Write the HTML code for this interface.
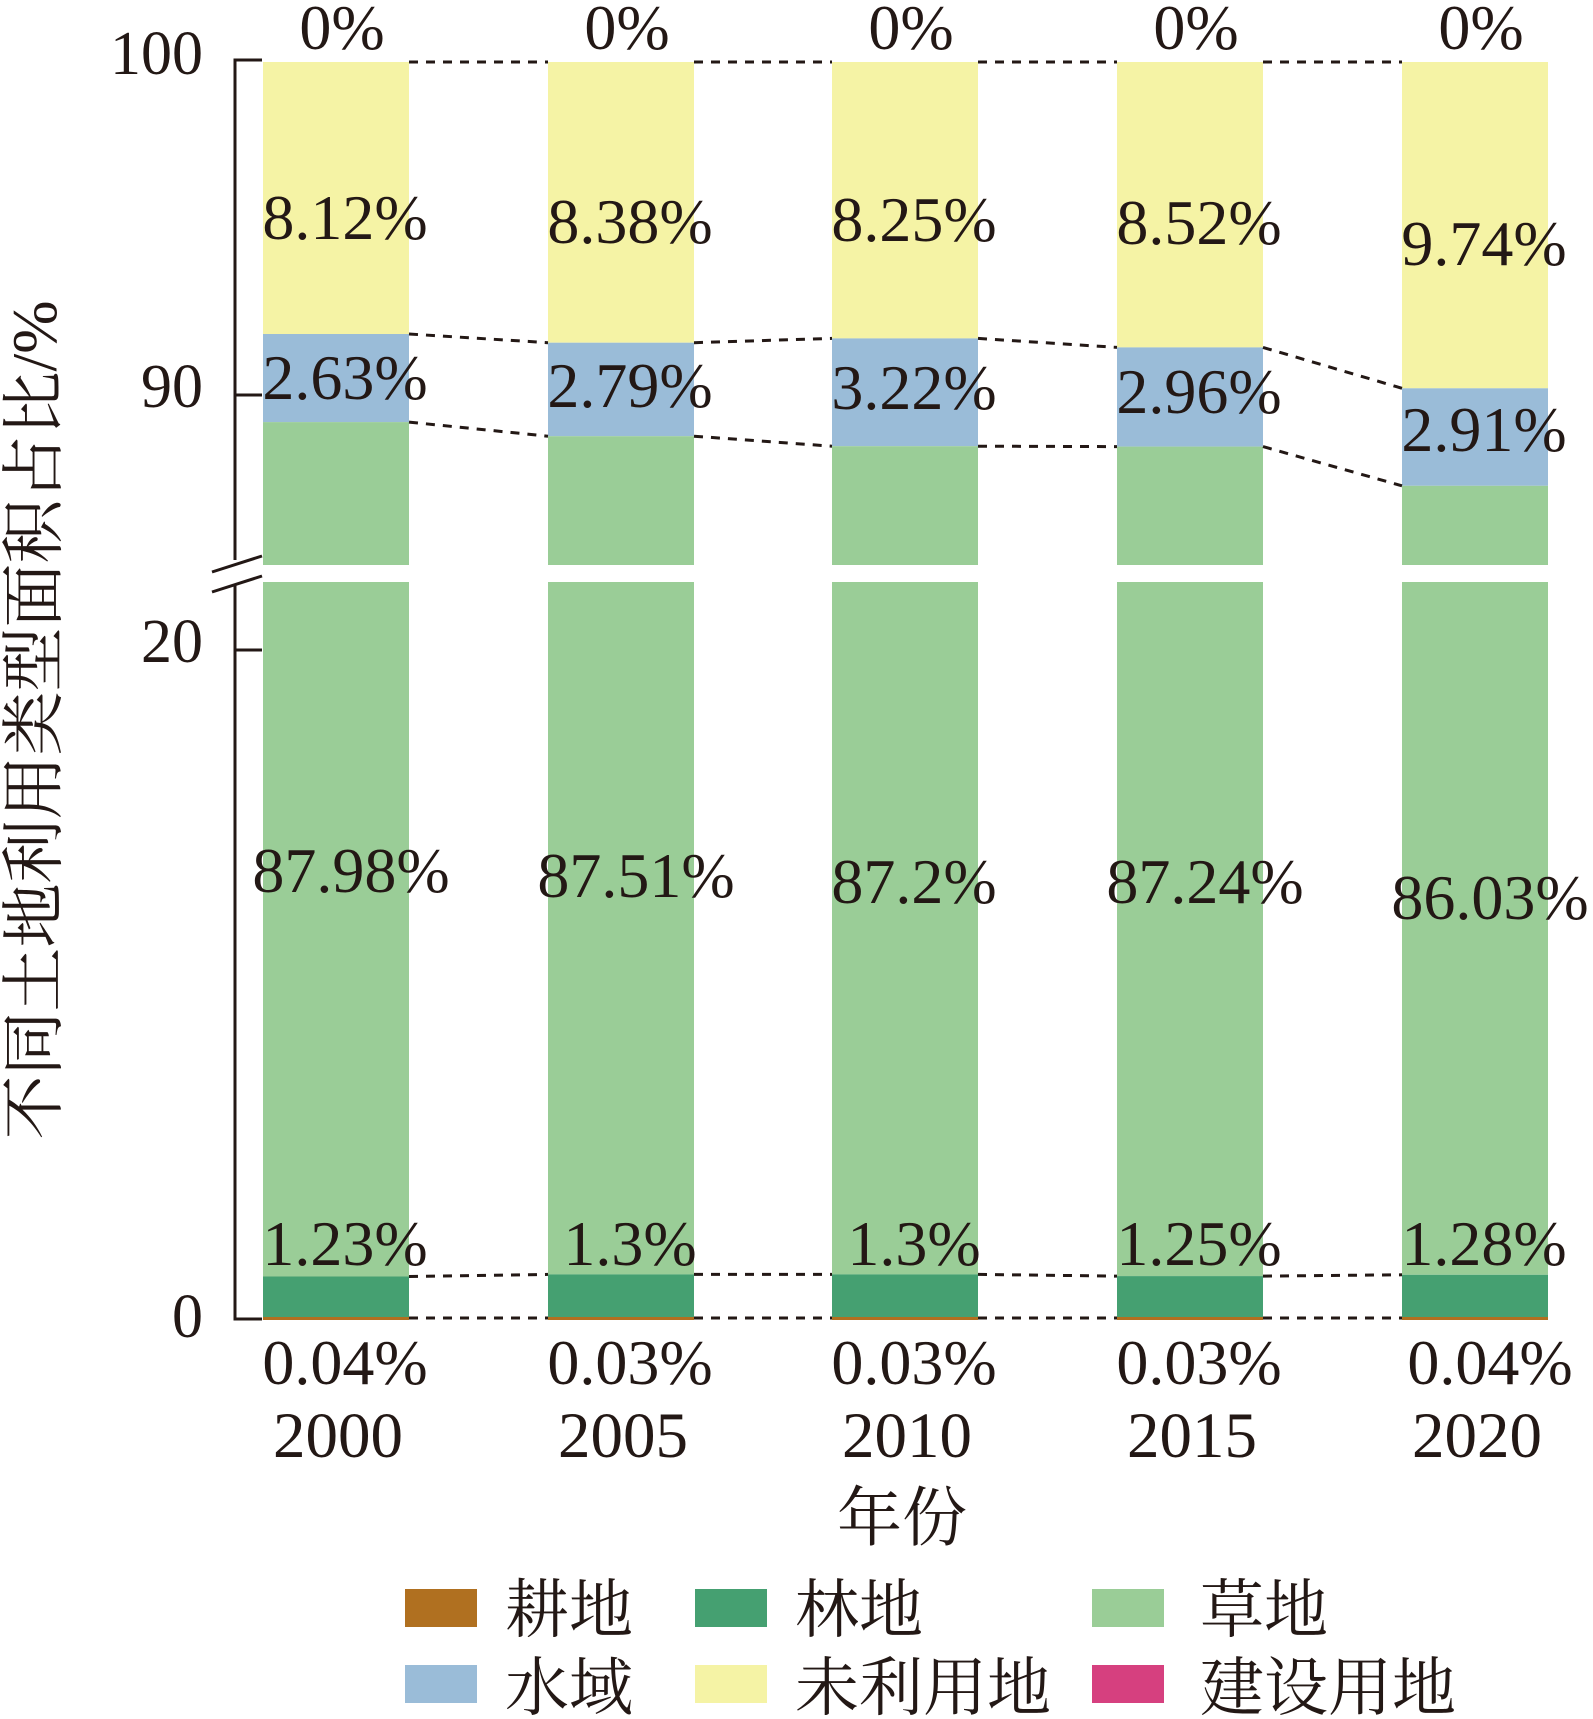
<!DOCTYPE html>
<html><head><meta charset="utf-8"><style>
html,body{margin:0;padding:0;background:#fff}
svg{display:block}
text{font-family:"Liberation Serif","Noto Serif CJK SC",serif;fill:#231815}
</style></head><body>
<svg width="1593" height="1719" viewBox="0 0 1593 1719" xmlns="http://www.w3.org/2000/svg">
<!-- bars -->
<g>
<rect x="263" y="62" width="146" height="272" fill="#f5f3a5"/>
<rect x="263" y="334" width="146" height="88.1" fill="#9abcd8"/>
<rect x="263" y="422.1" width="146" height="142.9" fill="#9acd97"/>
<rect x="263" y="582" width="146" height="694.5" fill="#9acd97"/>
<rect x="263" y="1276.5" width="146" height="42.5" fill="#45a071"/>
<rect x="263" y="1317" width="146" height="3" fill="#b07020"/>

<rect x="548" y="62" width="146" height="280.7" fill="#f5f3a5"/>
<rect x="548" y="342.7" width="146" height="93.5" fill="#9abcd8"/>
<rect x="548" y="436.2" width="146" height="128.8" fill="#9acd97"/>
<rect x="548" y="582" width="146" height="692.4" fill="#9acd97"/>
<rect x="548" y="1274.4" width="146" height="44.6" fill="#45a071"/>
<rect x="548" y="1317" width="146" height="3" fill="#b07020"/>

<rect x="832" y="62" width="146" height="276.4" fill="#f5f3a5"/>
<rect x="832" y="338.4" width="146" height="107.8" fill="#9abcd8"/>
<rect x="832" y="446.2" width="146" height="118.8" fill="#9acd97"/>
<rect x="832" y="582" width="146" height="692.4" fill="#9acd97"/>
<rect x="832" y="1274.4" width="146" height="44.6" fill="#45a071"/>
<rect x="832" y="1317" width="146" height="3" fill="#b07020"/>

<rect x="1117" y="62" width="146" height="285.4" fill="#f5f3a5"/>
<rect x="1117" y="347.4" width="146" height="99.2" fill="#9abcd8"/>
<rect x="1117" y="446.6" width="146" height="118.4" fill="#9acd97"/>
<rect x="1117" y="582" width="146" height="694.1" fill="#9acd97"/>
<rect x="1117" y="1276.1" width="146" height="42.9" fill="#45a071"/>
<rect x="1117" y="1317" width="146" height="3" fill="#b07020"/>

<rect x="1402" y="62" width="146" height="326.3" fill="#f5f3a5"/>
<rect x="1402" y="388.3" width="146" height="97.5" fill="#9abcd8"/>
<rect x="1402" y="485.8" width="146" height="79.2" fill="#9acd97"/>
<rect x="1402" y="582" width="146" height="692.8" fill="#9acd97"/>
<rect x="1402" y="1274.8" width="146" height="44.2" fill="#45a071"/>
<rect x="1402" y="1317" width="146" height="3" fill="#b07020"/>
</g>
<!-- dotted connectors -->
<g stroke="#231815" stroke-width="3" stroke-dasharray="9,8" fill="none">
<polyline points="409,62 548,62"/><polyline points="694,62 832,62"/><polyline points="978,62 1117,62"/><polyline points="1263,62 1402,62"/>
<line x1="409" y1="334" x2="548" y2="342.7"/><line x1="694" y1="342.7" x2="832" y2="338.4"/><line x1="978" y1="338.4" x2="1117" y2="347.4"/><line x1="1263" y1="347.4" x2="1402" y2="388.3"/>
<line x1="409" y1="422.1" x2="548" y2="436.2"/><line x1="694" y1="436.2" x2="832" y2="446.2"/><line x1="978" y1="446.2" x2="1117" y2="446.6"/><line x1="1263" y1="446.6" x2="1402" y2="485.8"/>
<line x1="409" y1="1276.5" x2="548" y2="1274.4"/><line x1="694" y1="1274.4" x2="832" y2="1274.4"/><line x1="978" y1="1274.4" x2="1117" y2="1276.1"/><line x1="1263" y1="1276.1" x2="1402" y2="1274.8"/>
<line x1="409" y1="1318" x2="548" y2="1318"/><line x1="694" y1="1318" x2="832" y2="1318"/><line x1="978" y1="1318" x2="1117" y2="1318"/><line x1="1263" y1="1318" x2="1402" y2="1318"/>
</g>
<!-- axis -->
<g stroke="#231815" stroke-width="3" fill="none">
<polyline points="262,60 235,60 235,560"/>
<line x1="235" y1="395" x2="262" y2="395"/>
<polyline points="235,584 235,1319 262,1319"/>
<line x1="235" y1="650" x2="262" y2="650"/>
<line x1="212" y1="572" x2="262" y2="556"/>
<line x1="212" y1="592" x2="262" y2="576"/>
</g>
<g font-size="62" text-anchor="end">
<text x="203" y="74">100</text>
<text x="203" y="407">90</text>
<text x="203" y="662">20</text>
<text x="203" y="1337">0</text>
</g>
<!-- value labels -->
<g font-size="64" text-anchor="middle">
<text x="342" y="49">0%</text><text x="627" y="49">0%</text><text x="911" y="49">0%</text><text x="1196" y="49">0%</text><text x="1481" y="49">0%</text>
<text x="345" y="239">8.12%</text><text x="630" y="243">8.38%</text><text x="914" y="241">8.25%</text><text x="1199" y="244">8.52%</text><text x="1484" y="265">9.74%</text>
<text x="345" y="399">2.63%</text><text x="630" y="407">2.79%</text><text x="914" y="409">3.22%</text><text x="1199" y="413">2.96%</text><text x="1484" y="451">2.91%</text>
<text x="351" y="892">87.98%</text><text x="636" y="897">87.51%</text><text x="914" y="903">87.2%</text><text x="1205" y="903">87.24%</text><text x="1490" y="919">86.03%</text>
<text x="345" y="1265">1.23%</text><text x="630" y="1265">1.3%</text><text x="914" y="1265">1.3%</text><text x="1199" y="1265">1.25%</text><text x="1484" y="1265">1.28%</text>
<text x="345" y="1384">0.04%</text><text x="630" y="1384">0.03%</text><text x="914" y="1384">0.03%</text><text x="1199" y="1384">0.03%</text><text x="1490" y="1384">0.04%</text>
</g>
<g font-size="65" text-anchor="middle">
<text x="338" y="1457">2000</text><text x="623" y="1457">2005</text><text x="907" y="1457">2010</text><text x="1192" y="1457">2015</text><text x="1477" y="1457">2020</text>
</g>
<text transform="translate(56,720) rotate(-90)" font-size="64" text-anchor="middle">不同土地利用类型面积占比/%</text>
<text x="902" y="1540" font-size="65" text-anchor="middle">年份</text>
<!-- legend -->
<g font-size="64">
<rect x="405" y="1589" width="72" height="38" fill="#b07020"/>
<text x="505" y="1632">耕地</text>
<rect x="695" y="1589" width="72" height="38" fill="#45a071"/>
<text x="795" y="1632">林地</text>
<rect x="1092" y="1589" width="72" height="38" fill="#9acd97"/>
<text x="1200" y="1632">草地</text>
<rect x="405" y="1665" width="72" height="38" fill="#9abcd8"/>
<text x="505" y="1710">水域</text>
<rect x="695" y="1665" width="72" height="38" fill="#f5f3a5"/>
<text x="795" y="1710">未利用地</text>
<rect x="1092" y="1665" width="72" height="38" fill="#d6407f"/>
<text x="1200" y="1710">建设用地</text>
</g>
</svg>
</body></html>
